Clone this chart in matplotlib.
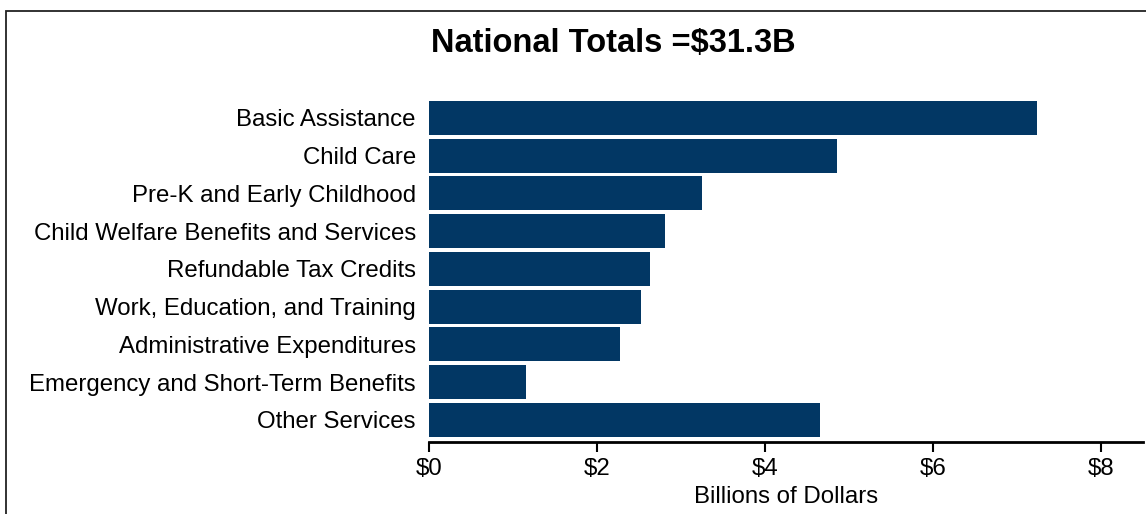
import matplotlib
matplotlib.use("Agg")
import matplotlib.pyplot as plt
from matplotlib.patches import Rectangle

plt.rcParams['font.family'] = ['Liberation Sans', 'DejaVu Sans']

categories = ["Basic Assistance", "Child Care", "Pre-K and Early Childhood",
              "Child Welfare Benefits and Services", "Refundable Tax Credits",
              "Work, Education, and Training", "Administrative Expenditures",
              "Emergency and Short-Term Benefits", "Other Services"]
values = [7.24, 4.86, 3.25, 2.81, 2.63, 2.52, 2.27, 1.15, 4.65]
xticks = [0, 2, 4, 6, 8]
xticklabels = ["$0", "$2", "$4", "$6", "$8"]
title = "National Totals =$31.3B"
xlabel = "Billions of Dollars"

fig = plt.figure(figsize=(11.46, 5.14), dpi=100)
fig.patches.append(Rectangle((6/1146, -0.1), 1.2, 1 - 10.5/514 + 0.1,
                             transform=fig.transFigure, fill=False,
                             edgecolor='#222222', linewidth=1.3))
ax = fig.add_axes([429/1146, 1 - 442/514, (1143 - 429)/1146, (442 - 97)/514])
ypos = list(range(len(categories)))
ax.barh(ypos, values, height=0.9, color='#023764')
ax.set_ylim(8.583, -0.55)
ax.set_xlim(0, 8.5)
ax.set_yticks(ypos)
ax.set_yticklabels(categories, fontsize=17.3)
ax.tick_params(axis='y', length=0, pad=9.5)
ax.set_xticks(xticks)
ax.set_xticklabels(xticklabels, fontsize=17.3)
ax.tick_params(axis='x', length=7, width=1.5, pad=4.5)
for s in ['top', 'right', 'left']:
    ax.spines[s].set_visible(False)
ax.spines['bottom'].set_linewidth(2)
ax.set_xlabel(xlabel, fontsize=17.3, labelpad=4)
fig.text(613/1146, 1 - 43.5/514, title, fontsize=23.5, fontweight='bold',
         ha='center', va='center')
fig.savefig("out.png", dpi=100)
